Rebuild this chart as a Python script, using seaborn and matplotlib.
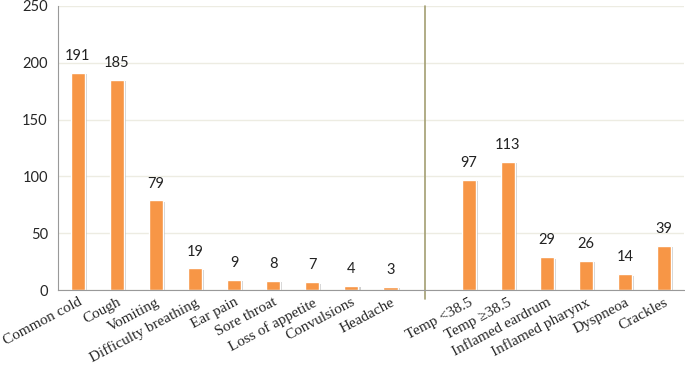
import matplotlib
matplotlib.use("Agg")
import matplotlib.pyplot as plt
import matplotlib.patheffects as pe
import numpy as np
import pandas as pd
import seaborn as sns

# symptoms (left) and signs (right), one blank slot between them
symptoms = ["Common cold", "Cough", "Vomiting", "Difficulty breathing", "Ear pain",
            "Sore throat", "Loss of appetite", "Convulsions", "Headache"]
symptom_counts = [191, 185, 79, 19, 9, 8, 7, 4, 3]
signs = ["Temp <38.5", "Temp \u226538.5", "Inflamed eardrum", "Inflamed pharynx",
         "Dyspneoa", "Crackles"]
sign_counts = [97, 113, 29, 26, 14, 39]

gap = " "
labels = symptoms + [gap] + signs
counts = symptom_counts + [np.nan] + sign_counts
df = pd.DataFrame({"label": labels, "count": counts})

sns.set_style("white")
fig = plt.figure(figsize=(6.85, 3.7), dpi=100)
ax = fig.add_axes([0.085, 0.216, 0.913, 0.768])

sns.barplot(data=df, x="label", y="count", order=labels, color="#F79646",
            saturation=1, width=0.36, ax=ax)

for p in ax.patches:
    p.set_path_effects([pe.SimplePatchShadow(offset=(1.5, -1), shadow_rgbFace="#b0b0b0", alpha=0.6),
                        pe.Normal()])

for c in ax.containers:
    vals = [f"{int(v)}" if not np.isnan(v) else "" for v in c.datavalues]
    ax.bar_label(c, labels=vals, padding=7, fontsize=10.5, family="Lato", color="#222222")

ax.set_ylim(0, 250)
ax.set_yticks(np.arange(0, 251, 50))
ax.set_xlim(-0.5, len(labels) - 0.5)
ax.yaxis.grid(True, color="#EDECE2", linewidth=1)
ax.set_axisbelow(True)

# divider between symptoms and signs
div_x = len(symptoms) - 0.12
ax.plot([div_x, div_x], [-0.03, 1.0], transform=ax.get_xaxis_transform(),
        color="#A39E72", linewidth=1.2, clip_on=False)

ax.set_xlabel("")
ax.set_ylabel("")
ax.set_xticks(np.arange(len(labels)) + 0.5, minor=True)
ax.set_xticks(np.arange(len(labels)))
ax.set_xticklabels(labels, rotation=28, ha="right", rotation_mode="anchor",
                   family="Liberation Serif", fontsize=11)
ax.tick_params(axis="x", which="major", length=0, pad=4)
ax.tick_params(axis="x", which="minor", length=4, color="#999999", width=1)
ax.tick_params(axis="y", length=4, color="#999999", labelsize=10.5)
for t in ax.get_yticklabels():
    t.set_family("Lato")

for s in ["top", "right"]:
    ax.spines[s].set_visible(False)
ax.spines["left"].set_color("#999999")
ax.spines["bottom"].set_color("#999999")

fig.savefig("out.png", dpi=100)
